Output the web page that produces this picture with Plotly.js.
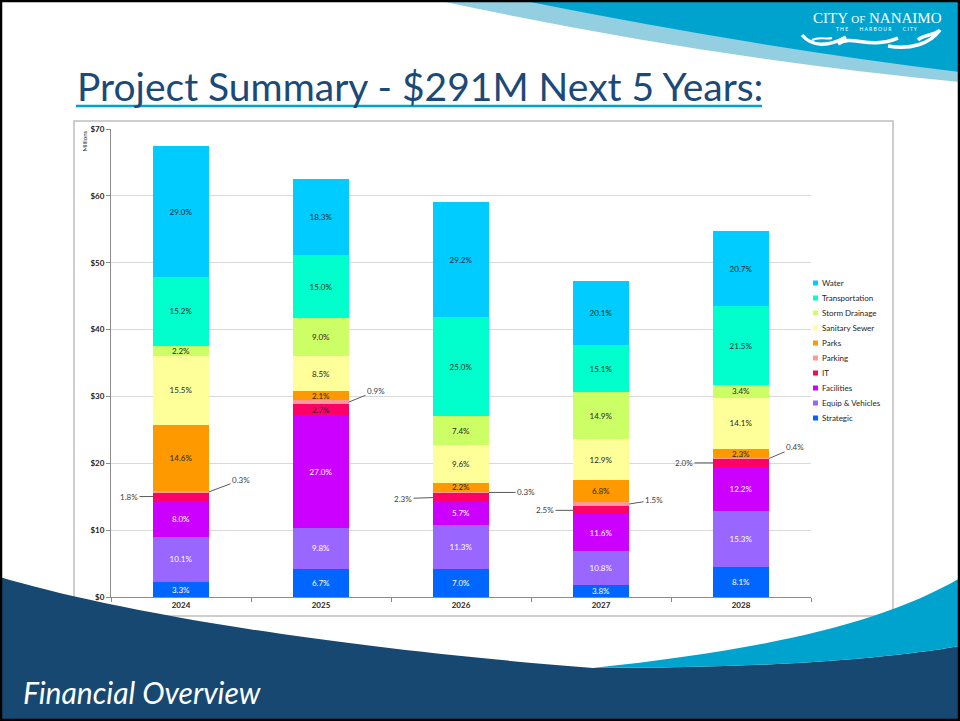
<!DOCTYPE html>
<html><head><meta charset="utf-8">
<script src="https://cdn.plot.ly/plotly-3.0.1.min.js"></script>
<style>html,body{margin:0;padding:0;background:#fff;overflow:hidden}#chart{width:960px;height:721px;}</style>
</head><body><div id="chart"></div>
<script>
// ---------------- DATA ($ millions) ----------------
const years = ['2024', '2025', '2026', '2027', '2028'];
const strategic      = [2.22, 4.19, 4.14, 1.79, 4.44];
const equipVehicles  = [6.81, 6.13, 6.68, 5.10, 8.38];
const facilities     = [5.39, 16.88, 3.37, 5.48, 6.69];
const itValues       = [1.21, 1.69, 1.36, 1.18, 1.10];
const parking        = [0.20, 0.56, 0.18, 0.71, 0.22];
const parks          = [9.84, 1.31, 1.30, 3.21, 1.26];
const sanitarySewer  = [10.45, 5.31, 5.67, 6.09, 7.73];
const stormDrainage  = [1.48, 5.63, 4.37, 7.03, 1.86];
const transportation = [10.24, 9.38, 14.78, 7.13, 11.78];
const water          = [19.55, 11.44, 17.26, 9.49, 11.34];

// percentage labels (share of each year's total)
const strategicPct      = ['3.3%', '6.7%', '7.0%', '3.8%', '8.1%'];
const equipVehiclesPct  = ['10.1%', '9.8%', '11.3%', '10.8%', '15.3%'];
const facilitiesPct     = ['8.0%', '27.0%', '5.7%', '11.6%', '12.2%'];
const itPct             = ['1.8%', '2.7%', '2.3%', '2.5%', '2.0%'];
const parkingPct        = ['0.3%', '0.9%', '0.3%', '1.5%', '0.4%'];
const parksPct          = ['14.6%', '2.1%', '2.2%', '6.8%', '2.3%'];
const sanitarySewerPct  = ['15.5%', '8.5%', '9.6%', '12.9%', '14.1%'];
const stormDrainagePct  = ['2.2%', '9.0%', '7.4%', '14.9%', '3.4%'];
const transportationPct = ['15.2%', '15.0%', '25.0%', '15.1%', '21.5%'];
const waterPct          = ['29.0%', '18.3%', '29.2%', '20.1%', '20.7%'];
const itLabelInside     = [false, true, false, false, false];

const yTicks = [0, 10, 20, 30, 40, 50, 60, 70];

// ---------------- CHART ----------------
const FONT = 'Lato, "Open Sans", sans-serif';
const DARK = '#262626';
const LIGHT = '#FFFFFF';

function series(name, y, labels, color, txtColor) {
  return {
    type: 'bar', name: name, x: years, y: y, text: labels,
    textposition: 'inside', insidetextanchor: 'middle', textangle: 0,
    texttemplate: '%{text}',
    textfont: {family: FONT, size: 8, color: txtColor},
    marker: {color: color, line: {width: 0}},
    hoverinfo: 'name+y', showlegend: false
  };
}

const traces = [
  series('Strategic', strategic, strategicPct, '#0066FF', LIGHT),
  series('Equip & Vehicles', equipVehicles, equipVehiclesPct, '#9966FF', LIGHT),
  series('Facilities', facilities, facilitiesPct, '#CC00FF', LIGHT),
  series('IT', itValues, itPct.map((t, i) => itLabelInside[i] ? t : ''), '#FF0066', DARK),
  series('Parking', parking, parkingPct.map(() => ''), '#FF9999', DARK),
  series('Parks', parks, parksPct, '#FF9900', DARK),
  series('Sanitary Sewer', sanitarySewer, sanitarySewerPct, '#FFFF99', DARK),
  series('Storm Drainage', stormDrainage, stormDrainagePct, '#CCFF66', DARK),
  series('Transportation', transportation, transportationPct, '#00FFCC', DARK),
  series('Water', water, waterPct, '#00CCFF', DARK)
];

// pixel -> paper helpers (plot area: x 111..811, y 129..597)
const L = 111, R = 149, T = 129, B = 124, W = 960, H = 721;
const PW = W - L - R, PH = H - T - B;
const X = px => (px - L) / PW;
const Y = py => (H - B - py) / PH;
const P = (x, y) => X(x).toFixed(5) + ',' + Y(y).toFixed(5);

const shapes = [
  // chart box
  {type: 'rect', xref: 'paper', yref: 'paper', x0: X(74), x1: X(893), y0: Y(616), y1: Y(121),
   fillcolor: '#FFFFFF', line: {color: '#BFBFBF', width: 1.5}, layer: 'below'},
  // top-right swooshes
  {type: 'path', xref: 'paper', yref: 'paper', layer: 'below', line: {width: 0}, fillcolor: '#93CFE0',
   path: 'M' + P(436, 0) + ' Q' + P(705, 58) + ' ' + P(960, 82) + ' L' + P(960, 0) + ' Z'},
  {type: 'path', xref: 'paper', yref: 'paper', layer: 'below', line: {width: 0}, fillcolor: '#00A2CE',
   path: 'M' + P(520, 0) + ' Q' + P(760, 48) + ' ' + P(960, 72) + ' L' + P(960, 0) + ' Z'},
  // bottom navy
  {type: 'path', xref: 'paper', yref: 'paper', layer: 'below', line: {width: 0}, fillcolor: '#174872',
   path: 'M' + P(0, 577) + ' C' + P(100, 607) + ' ' + P(300, 645) + ' ' + P(593, 668) +
         ' C' + P(760, 668) + ' ' + P(880, 660) + ' ' + P(960, 646) + ' L' + P(960, 721) + ' L' + P(0, 721) + ' Z'},
  // bottom cyan band
  {type: 'path', xref: 'paper', yref: 'paper', layer: 'below', line: {width: 0}, fillcolor: '#00A2CE',
   path: 'M' + P(593, 668) + ' C' + P(760, 650) + ' ' + P(880, 625) + ' ' + P(960, 578) +
         ' L' + P(960, 646) + ' C' + P(880, 660) + ' ' + P(760, 668) + ' ' + P(593, 668) + ' Z'},
  // title underline
  {type: 'line', xref: 'paper', yref: 'paper', x0: X(76), x1: X(762), y0: Y(106), y1: Y(106),
   line: {color: '#00A0D2', width: 2.5}, layer: 'below'},
  // logo waves
  {type: 'path', xref: 'paper', yref: 'paper', layer: 'above', line: {color: '#FFFFFF', width: 3.5}, fillcolor: 'rgba(0,0,0,0)',
   path: 'M' + P(802, 35) + ' C' + P(812, 47) + ' ' + P(828, 47) + ' ' + P(846, 37)},
  {type: 'path', xref: 'paper', yref: 'paper', layer: 'above', line: {color: '#FFFFFF', width: 3.5}, fillcolor: 'rgba(0,0,0,0)',
   path: 'M' + P(838, 44) + ' C' + P(852, 34) + ' ' + P(868, 50) + ' ' + P(898, 38)},
  {type: 'path', xref: 'paper', yref: 'paper', layer: 'above', line: {color: '#FFFFFF', width: 3.5}, fillcolor: 'rgba(0,0,0,0)',
   path: 'M' + P(888, 46) + ' C' + P(910, 50) + ' ' + P(930, 44) + ' ' + P(940, 30) + ' C' + P(934, 36) + ' ' + P(924, 34) + ' ' + P(918, 40)},
  {type: 'path', xref: 'paper', yref: 'paper', layer: 'above', line: {color: '#FFFFFF', width: 2}, fillcolor: 'rgba(0,0,0,0)',
   path: 'M' + P(812, 40) + ' C' + P(820, 36) + ' ' + P(826, 40) + ' ' + P(832, 38)},
  // slide frame
  {type: 'rect', xref: 'paper', yref: 'paper', x0: X(1), x1: X(959), y0: Y(720), y1: Y(1),
   line: {color: '#000000', width: 2.5}, fillcolor: 'rgba(0,0,0,0)', layer: 'above'}
];

// legend (top = last trace), compact like the original
const annotations = [];
traces.slice().reverse().forEach((tr, k) => {
  const cy = 283 + k * 15;
  shapes.push({type: 'rect', xref: 'paper', yref: 'paper', x0: X(813), x1: X(818), y0: Y(cy + 2.5), y1: Y(cy - 2.5),
               fillcolor: tr.marker.color, line: {width: 0}, layer: 'above'});
  annotations.push({xref: 'paper', yref: 'paper', x: X(820), y: Y(cy), xanchor: 'left', yanchor: 'middle',
                    showarrow: false, text: tr.name, font: {family: FONT, size: 8, color: '#262626'}});
});

// leader-line labels for thin segments
const HALF = 0.2;
const itOffsets = [[-24, 0], [0, 0], [-30, 1], [-28, 0], [-29, 0]];
const parkingOffsets = [[32, -12], [27, -11], [37, 0], [25, -4], [26, -11]];
years.forEach((yr, i) => {
  const base = strategic[i] + equipVehicles[i] + facilities[i];
  if (!itLabelInside[i]) {
    annotations.push({x: i - HALF, y: base + itValues[i] / 2, xref: 'x', yref: 'y',
      text: itPct[i], showarrow: true, arrowhead: 0, arrowwidth: 1, arrowcolor: '#595959',
      ax: itOffsets[i][0], ay: itOffsets[i][1], standoff: 0,
      font: {family: FONT, size: 8, color: '#404040'}});
  }
  annotations.push({x: i + HALF, y: base + itValues[i] + parking[i] / 2, xref: 'x', yref: 'y',
    text: parkingPct[i], showarrow: true, arrowhead: 0, arrowwidth: 1, arrowcolor: '#595959',
    ax: parkingOffsets[i][0], ay: parkingOffsets[i][1], standoff: 0,
    font: {family: FONT, size: 8, color: '#404040'}});
});

annotations.push(
  {xref: 'paper', yref: 'paper', x: X(75), y: Y(86), xanchor: 'left', yanchor: 'middle', showarrow: false,
   text: 'Project Summary - $291M Next 5 Years:', font: {family: FONT, size: 39, color: '#1B4A78'}},
  {xref: 'paper', yref: 'paper', x: X(21), y: Y(692), xanchor: 'left', yanchor: 'middle', showarrow: false,
   text: '<i>Financial Overview</i>', font: {family: FONT, size: 30, color: '#FFFFFF'}},
  {xref: 'paper', yref: 'paper', x: X(84), y: Y(129), xanchor: 'center', yanchor: 'top', showarrow: false,
   text: 'Millions', textangle: -90, font: {family: FONT, size: 6, color: '#262626'}},
  {xref: 'paper', yref: 'paper', x: X(877), y: Y(18), xanchor: 'center', yanchor: 'middle', showarrow: false,
   text: 'CITY <span style="font-size:11px">OF</span> NANAIMO', font: {family: '"Liberation Serif", serif', size: 15, color: '#FFFFFF'}},
  {xref: 'paper', yref: 'paper', x: X(877), y: Y(29), xanchor: 'center', yanchor: 'middle', showarrow: false,
   text: 'T H E         H A R B O U R         C I T Y', font: {family: FONT, size: 5, color: '#FFFFFF'}}
);

const layout = {
  width: W, height: H,
  margin: {l: L, r: R, t: T, b: B, pad: 0},
  paper_bgcolor: '#FFFFFF', plot_bgcolor: 'rgba(0,0,0,0)',
  barmode: 'stack', bargap: 0.6,
  font: {family: FONT, color: DARK},
  uniformtext: {mode: 'show', minsize: 8},
  showlegend: false,
  xaxis: {type: 'category', showline: true, linecolor: '#8C8C8C', linewidth: 1,
          ticks: 'outside', tickson: 'boundaries', ticklen: 4, tickcolor: '#8C8C8C',
          tickfont: {family: FONT, size: 8, color: '#262626', weight: 'bold'}, showgrid: false, zeroline: false,
          fixedrange: true},
  yaxis: {range: [0, 70], tickvals: yTicks, ticktext: yTicks.map(v => '$' + v),
          showline: true, linecolor: '#8C8C8C', linewidth: 1, ticks: 'outside', ticklen: 4, tickcolor: '#8C8C8C',
          showgrid: true, gridcolor: '#D9D9D9', gridwidth: 1, zeroline: false,
          tickfont: {family: FONT, size: 8, color: '#262626', weight: 'bold'}, fixedrange: true},
  shapes: shapes,
  annotations: annotations
};

Plotly.newPlot('chart', traces, layout, {displayModeBar: false, staticPlot: true});
</script></body></html>
